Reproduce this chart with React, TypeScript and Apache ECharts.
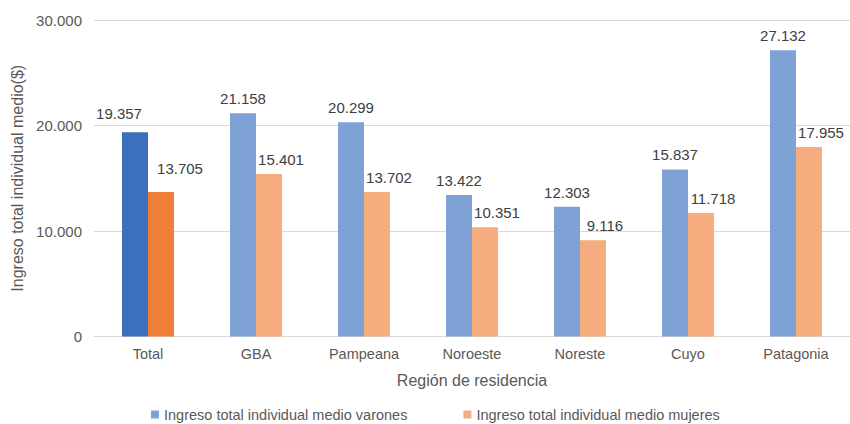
import React, { useEffect, useRef } from "react";
import * as echarts from "echarts";

const categories = ["Total", "GBA", "Pampeana", "Noroeste", "Noreste", "Cuyo", "Patagonia"];
const varones = [19357, 21158, 20299, 13422, 12303, 15837, 27132];
const mujeres = [13705, 15401, 13702, 10351, 9116, 11718, 17955];
const seriesNames = ["Ingreso total individual medio varones", "Ingreso total individual medio mujeres"];
const yTicks = [0, 10000, 20000, 30000];

const fmt = (v: number) => {
  const s = Math.round(v).toString();
  return s.replace(/\B(?=(\d{3})+(?!\d))/g, ".");
};

const FONT = "Liberation Sans, Arial, sans-serif";
const TXT = "#595959";
const LBL = "#404040";

export default function App() {
  const ref = useRef<HTMLDivElement>(null);
  useEffect(() => {
    if (!ref.current) return;
    const chart = echarts.init(ref.current, null, { renderer: "svg" });
    const varData = varones.map((v, i) =>
      i === 0
        ? { value: v, itemStyle: { color: "#3D70BC" }, label: { offset: [-16, -4] } }
        : { value: v }
    );
    const mujData = mujeres.map((v, i) =>
      i === 0
        ? { value: v, itemStyle: { color: "#F08038" }, label: { offset: [19, -9] } }
        : { value: v }
    );
    chart.setOption({
      animation: false,
      textStyle: { fontFamily: FONT },
      grid: { left: 94, top: 20, width: 759, height: 316.5 },
      legend: {
        data: seriesNames,
        left: 146,
        top: 402,
        padding: 5,
        itemWidth: 8,
        itemHeight: 8,
        itemGap: 56,
        icon: "rect",
        textStyle: { color: TXT, fontSize: 14.5, fontFamily: FONT },
      },
      xAxis: {
        type: "category",
        data: categories,
        name: "Región de residencia",
        nameLocation: "middle",
        nameGap: 36,
        nameTextStyle: { color: TXT, fontSize: 16, fontFamily: FONT },
        axisLine: { lineStyle: { color: "#D9D9D9" } },
        axisTick: { show: false },
        axisLabel: { color: TXT, fontSize: 14.5, margin: 10, fontFamily: FONT },
      },
      yAxis: {
        type: "value",
        min: yTicks[0],
        max: yTicks[yTicks.length - 1],
        interval: 10000,
        name: "Ingreso total individual medio($)",
        nameLocation: "middle",
        nameGap: 68,
        nameTextStyle: { color: TXT, fontSize: 16, fontFamily: FONT },
        axisLine: { show: false },
        axisTick: { show: false },
        splitLine: { lineStyle: { color: "#D9D9D9" } },
        axisLabel: { color: TXT, fontSize: 15, margin: 12, fontFamily: FONT, formatter: (v: number) => fmt(v) },
      },
      series: [
        {
          name: seriesNames[0],
          type: "bar",
          data: varData,
          barWidth: 26,
          barGap: "0%",
          itemStyle: { color: "#7FA2D6" },
          label: {
            show: true,
            position: "top",
            distance: 7,
            color: LBL,
            fontSize: 15,
            fontFamily: FONT,
            formatter: (p: any) => fmt(p.value),
          },
        },
        {
          name: seriesNames[1],
          type: "bar",
          data: mujData,
          barWidth: 26,
          barGap: "0%",
          itemStyle: { color: "#F5AC7E" },
          label: {
            show: true,
            position: "top",
            distance: 7,
            offset: [12, 0],
            color: LBL,
            fontSize: 15,
            fontFamily: FONT,
            formatter: (p: any) => fmt(p.value),
          },
        },
      ],
    });
    return () => chart.dispose();
  }, []);
  return (
    <div
      ref={ref}
      style={{ position: "fixed", left: 0, top: 0, width: 850, height: 424, background: "#fff" }}
    />
  );
}
